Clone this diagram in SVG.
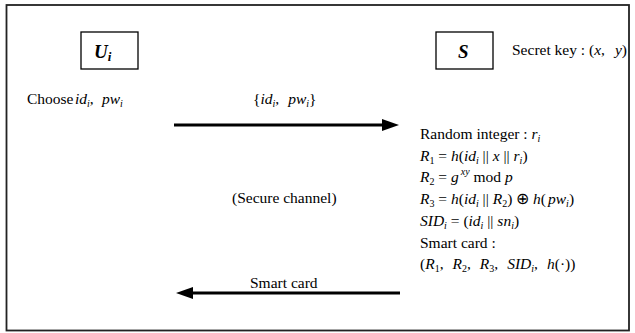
<svg xmlns="http://www.w3.org/2000/svg" width="635" height="333" viewBox="0 0 635 333" font-family="'Liberation Serif','Times New Roman',serif">
<style>
text{font-family:'Liberation Serif','Times New Roman',serif;font-size:15.5px;fill:#000}
.i{font-style:italic}
.s{font-size:10px}
.b{font-weight:bold;font-style:italic;font-size:19px}
.box{fill:#fff;stroke:#000;stroke-width:1.3}
.ln{stroke:#000;stroke-width:3;fill:none}
</style>
<defs>
<marker id="ah" markerWidth="17" markerHeight="12" refX="3" refY="6" orient="auto" markerUnits="userSpaceOnUse">
<path d="M0,0 L17,6 L0,12 Z" fill="#000"/>
</marker>
</defs>
<rect x="6.5" y="5" width="622.5" height="325.5" fill="#fff" stroke="#222" stroke-width="1.8"/>
<g id="node-ui">
<rect class="box" x="81" y="32" width="57" height="37"/>
<text x="94" y="58" class="b">U<tspan font-size="13px" dy="3">i</tspan></text>
</g>
<g id="node-s">
<rect class="box" x="436" y="32" width="57" height="37"/>
<text x="458" y="58" class="b">S</text>
<text x="512" y="55">Secret key : (<tspan class="i">x</tspan>,<tspan class="i" dx="10">y</tspan>)</text>
</g>
<g id="user-text">
<text x="27" y="104">Choose<tspan class="i" x="75">id</tspan><tspan class="s i" dy="3">i</tspan><tspan dy="-3">,</tspan><tspan class="i" x="102">pw</tspan><tspan class="s i" dy="3">i</tspan></text>
</g>
<g id="server-text">
<text x="420" y="139">Random integer : <tspan class="i">r</tspan><tspan class="s i" dy="3">i</tspan></text>
<text x="420" y="160.7"><tspan class="i">R</tspan><tspan class="s" dy="3">1</tspan><tspan dy="-3"> = </tspan><tspan class="i">h</tspan>(<tspan class="i">id</tspan><tspan class="s i" dy="3">i</tspan><tspan dy="-3"> || </tspan><tspan class="i">x</tspan> || <tspan class="i">r</tspan><tspan class="s i" dy="3">i</tspan><tspan dy="-3">)</tspan></text>
<text x="420" y="182.4"><tspan class="i">R</tspan><tspan class="s" dy="3">2</tspan><tspan dy="-3"> = </tspan><tspan class="i">g</tspan><tspan class="s i" dy="-7" dx="2">xy</tspan><tspan dy="7"> mod </tspan><tspan class="i">p</tspan></text>
<text x="420" y="204"><tspan class="i">R</tspan><tspan class="s" dy="3">3</tspan><tspan dy="-3"> = </tspan><tspan class="i">h</tspan>(<tspan class="i">id</tspan><tspan class="s i" dy="3">i</tspan><tspan dy="-3"> || </tspan><tspan class="i">R</tspan><tspan class="s" dy="3">2</tspan><tspan dy="-3">) ⊕ </tspan><tspan class="i">h</tspan>(<tspan class="i" dx="2">pw</tspan><tspan class="s i" dy="3">i</tspan><tspan dy="-3">)</tspan></text>
<text x="420" y="225.8"><tspan class="i">SID</tspan><tspan class="s i" dy="3">i</tspan><tspan dy="-3"> = (</tspan><tspan class="i">id</tspan><tspan class="s i" dy="3">i</tspan><tspan dy="-3"> || </tspan><tspan class="i">sn</tspan><tspan class="s i" dy="3">i</tspan><tspan dy="-3">)</tspan></text>
<text x="420" y="247.5">Smart card :</text>
<text x="420" y="269">(<tspan class="i">R</tspan><tspan class="s" dy="3">1</tspan><tspan dy="-3">,</tspan><tspan class="i" dx="9">R</tspan><tspan class="s" dy="3">2</tspan><tspan dy="-3">,</tspan><tspan class="i" dx="9">R</tspan><tspan class="s" dy="3">3</tspan><tspan dy="-3">,</tspan><tspan class="i" dx="9">SID</tspan><tspan class="s i" dy="3">i</tspan><tspan dy="-3">,</tspan><tspan class="i" dx="9">h</tspan>(·))</text>
</g>
<g id="connectors">
<line class="ln" x1="174" y1="125" x2="385" y2="125" marker-end="url(#ah)"/>
<text x="253" y="104">{<tspan class="i">id</tspan><tspan class="s i" dy="3">i</tspan><tspan dy="-3">,</tspan><tspan class="i" dx="9">pw</tspan><tspan class="s i" dy="3">i</tspan><tspan dy="-3">}</tspan></text>
<line class="ln" x1="400" y1="293" x2="190" y2="293" marker-end="url(#ah)"/>
<text x="250" y="288">Smart card</text>
<text x="232" y="203">(Secure channel)</text>
</g>
</svg>
